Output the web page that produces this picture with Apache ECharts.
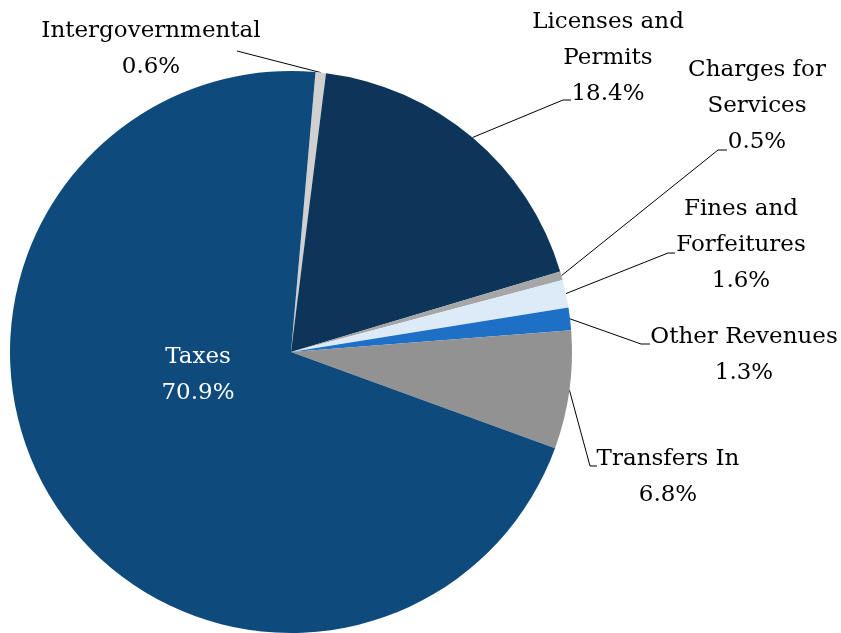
<!DOCTYPE html>
<html>
<head>
<meta charset="utf-8">
<script src="https://cdn.jsdelivr.net/npm/echarts@6/dist/echarts.min.js"></script>
<style>html,body{margin:0;padding:0;background:#fff}#c{width:841px;height:633px}</style>
</head>
<body>
<div id="c"></div>
<script>
// Data (clockwise from top)
const categories = ["Intergovernmental", "Licenses and\nPermits", "Charges for\nServices", "Fines and\nForfeitures", "Other Revenues", "Transfers In", "Taxes"];
const values = [0.6, 18.4, 0.5, 1.6, 1.3, 6.8, 70.9];
const colors = ["#D0D0D0", "#0C3559", "#A6A6A6", "#DDEBF8", "#1E70C6", "#929292", "#0F4A7D"];

// Layout of labels (block centers) and leader-line bends
const labelPos = [[151, 49], [608, 58], [757, 106], [741, 245], [744, 355], [668, 477], [198, 375]];
const lineBends = [
  [[237, 51]],
  [[563, 100], [571, 100]],
  [[718, 150], [727, 150]],
  [[668, 253], [675, 253]],
  [[641, 344], [650, 344]],
  [[590, 466], [597, 466]],
  null
];

const chart = echarts.init(document.getElementById('c'), null, {renderer: 'canvas'});
const data = categories.map((n, i) => {
  const d = {name: n, value: values[i], itemStyle: {color: colors[i]}};
  if (n === 'Taxes') {
    d.label = {position: 'inside', color: '#ffffff'};
    d.labelLine = {show: false};
  }
  return d;
});

chart.setOption({
  animation: false,
  series: [{
    type: 'pie',
    center: [291, 352],
    radius: 281,
    startAngle: 85,
    clockwise: true,
    avoidLabelOverlap: false,
    itemStyle: {borderWidth: 0},
    label: {
      show: true,
      position: 'outside',
      formatter: p => p.name + '\n' + p.value.toFixed(1) + '%',
      fontFamily: 'DejaVu Serif',
      fontSize: 23,
      lineHeight: 36,
      color: '#000000',
      align: 'center'
    },
    labelLine: {show: true, lineStyle: {color: '#000000', width: 1}},
    labelLayout: function (params) {
      const i = params.dataIndex;
      const res = {x: labelPos[i][0], y: labelPos[i][1], align: 'center', verticalAlign: 'middle'};
      if (lineBends[i] && params.labelLinePoints) {
        res.labelLinePoints = [params.labelLinePoints[0]].concat(lineBends[i]);
      }
      return res;
    },
    data: data
  }]
});
</script>
</body>
</html>
